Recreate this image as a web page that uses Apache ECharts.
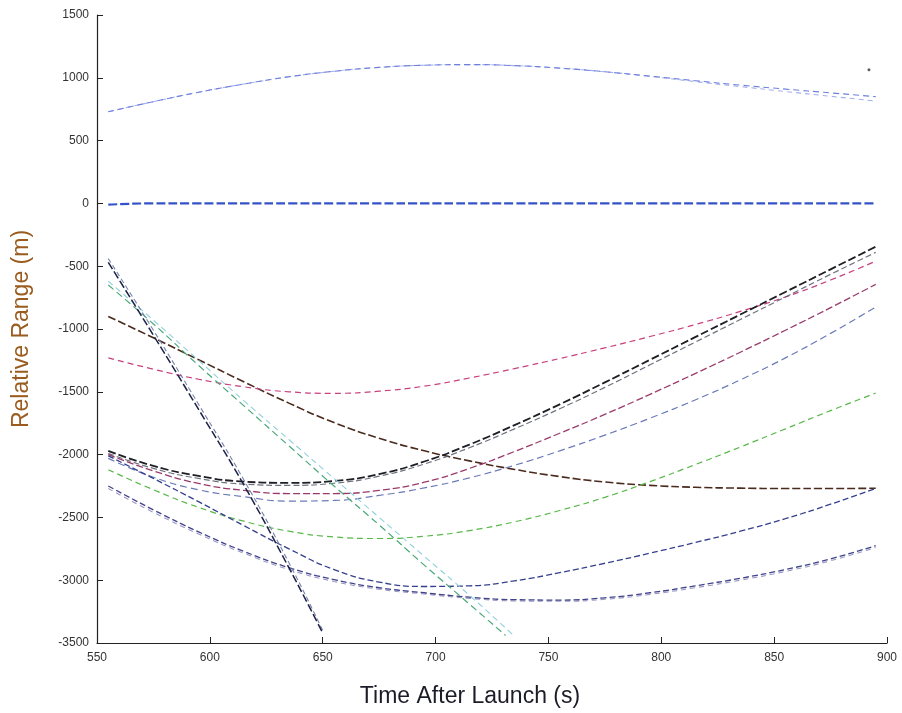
<!DOCTYPE html>
<html>
<head>
<meta charset="utf-8">
<script src="https://cdn.jsdelivr.net/npm/echarts@6/dist/echarts.min.js"></script>
<style>html,body{margin:0;padding:0;background:#fff}#c{width:902px;height:713px}</style>
</head>
<body>
<div id="c"></div>
<script>
// ---- data ----
const times = [555, 575, 595, 615, 635, 655, 675, 695, 715, 735, 755, 775, 795, 815, 835, 855, 875, 895];
const arcTop      = [730, 810, 885, 950, 1008, 1052, 1083, 1100, 1105, 1097, 1077, 1048, 1013, 977, 942, 910, 880, 850];
const arcTop2     = [730, 810, 885, 950, 1008, 1052, 1083, 1100, 1105, 1097, 1077, 1048, 1011, 970, 930, 891, 853, 815];
const zeroLine    = [-10, 0, 0, 0, 0, 0, 0, 0, 0, 0, 0, 0, 0, 0, 0, 0, 0, 0];
const brownCurve  = [-900, -1070, -1245, -1420, -1590, -1745, -1870, -1970, -2050, -2118, -2175, -2218, -2245, -2260, -2267, -2270, -2270, -2268];
const magentaCurve= [-1230, -1320, -1400, -1460, -1500, -1512, -1495, -1455, -1390, -1315, -1235, -1150, -1060, -965, -860, -745, -610, -460];
const blackCurve  = [-1970, -2090, -2170, -2215, -2225, -2210, -2155, -2055, -1920, -1765, -1600, -1425, -1245, -1065, -885, -705, -525, -345];
const blackCurve2 = [-1990, -2110, -2190, -2235, -2245, -2228, -2172, -2075, -1945, -1795, -1635, -1465, -1285, -1105, -925, -745, -565, -390];
const redCurve    = [-2000, -2130, -2230, -2285, -2310, -2310, -2285, -2220, -2110, -1975, -1830, -1680, -1520, -1355, -1185, -1010, -830, -645];
const blueGray    = [-2030, -2180, -2280, -2335, -2370, -2365, -2325, -2265, -2185, -2085, -1970, -1845, -1710, -1565, -1405, -1230, -1035, -825];
const greenCurve  = [-2120, -2280, -2420, -2530, -2610, -2655, -2668, -2650, -2605, -2535, -2445, -2340, -2215, -2080, -1940, -1795, -1650, -1510];
const navyA       = [-2010, -2190, -2375, -2565, -2750, -2915, -3015, -3050, -3045, -3005, -2940, -2865, -2785, -2700, -2610, -2510, -2395, -2270];
const navyB       = [-2250, -2440, -2615, -2770, -2900, -2995, -3060, -3100, -3135, -3155, -3158, -3140, -3100, -3045, -2985, -2915, -2830, -2725];
const navyB2      = [-2270, -2460, -2632, -2785, -2915, -3010, -3072, -3110, -3145, -3165, -3168, -3152, -3113, -3060, -3000, -2930, -2845, -2740];

const steepTimes  = [555, 575, 595, 615, 635, 650];
const steepDark   = [-470, -1050, -1640, -2240, -2900, -3420];
const steepLight  = [-440, -1010, -1600, -2200, -2860, -3400];

const diagTimes   = [555, 575, 595, 615, 635, 655, 675, 695, 715, 731];
const diagGreen   = [-650, -960, -1290, -1610, -1930, -2250, -2560, -2880, -3190, -3440];
const diagTimes2  = [555, 575, 595, 615, 635, 655, 675, 695, 715, 734];
const diagCyan    = [-620, -930, -1250, -1570, -1880, -2190, -2500, -2810, -3120, -3430];

const strayPoint  = [[892, 1065]];

const xTicks = [550, 600, 650, 700, 750, 800, 850, 900];
const yTicks = [-3500, -3000, -2500, -2000, -1500, -1000, -500, 0, 500, 1000, 1500];

// ---- build ----
function pairs(xs, ys) { return ys.map((v, i) => [xs[i], v]); }
function line(name, xs, ys, color, width, dash, opacity) {
  return {
    name, type: 'line', data: pairs(xs, ys), smooth: true, showSymbol: false, silent: true,
    lineStyle: { color, width, type: dash, opacity: opacity == null ? 1 : opacity }
  };
}

const series = [
  line('arcTop2', times, arcTop2, '#9aa6e8', 1.1, [5, 4], 0.9),
  line('arcTop', times, arcTop, '#6f80dc', 1.1, [6, 4]),
  line('zero', times, zeroLine, '#3553c8', 2.2, [9, 3]),
  line('brown', times, brownCurve, '#4a2a1c', 1.6, [8, 3]),
  line('magenta', times, magentaCurve, '#c8407e', 1.2, [6, 4]),
  line('black2', times, blackCurve2, '#555a6a', 1.2, [6, 3], 0.85),
  line('black', times, blackCurve, '#1e1e24', 1.8, [8, 3]),
  line('red', times, redCurve, '#9a3a6a', 1.3, [7, 3]),
  line('bluegray', times, blueGray, '#6a7ab8', 1.2, [7, 4]),
  line('green', times, greenCurve, '#58b84a', 1.2, [6, 4]),
  line('navyA', times, navyA, '#34408e', 1.3, [6, 3]),
  line('navyB2', times, navyB2, '#8a86b8', 1.1, [5, 4], 0.85),
  line('navyB', times, navyB, '#40448a', 1.3, [6, 3]),
  line('diagCyan', diagTimes2, diagCyan, '#8fd0dc', 1.1, [6, 4]),
  line('diagGreen', diagTimes, diagGreen, '#4aa87a', 1.2, [7, 4]),
  line('steepLight', steepTimes, steepLight, '#7a84a8', 1.1, [5, 3]),
  line('steepDark', steepTimes, steepDark, '#1c2248', 1.5, [8, 3]),
  { name: 'stray', type: 'scatter', data: strayPoint, symbolSize: 3, silent: true, itemStyle: { color: '#333' } }
];

const chart = echarts.init(document.getElementById('c'), null, { renderer: 'canvas' });
chart.setOption({
  animation: false,
  backgroundColor: '#ffffff',
  grid: { left: 97, right: 15, top: 15, bottom: 68, containLabel: false },
  xAxis: {
    type: 'value', min: xTicks[0], max: xTicks[xTicks.length - 1], interval: 50,
    name: 'Time After Launch (s)', nameLocation: 'middle', nameGap: 42,
    nameTextStyle: { fontFamily: 'Liberation Sans, Arial', fontSize: 23, color: '#1c1c28', padding: [0, 44, 0, 0] },
    axisLine: { show: true, onZero: false, lineStyle: { color: '#222', width: 1.2 } },
    axisTick: { show: true, inside: true, length: 6, lineStyle: { color: '#222' } },
    axisLabel: { fontFamily: 'Liberation Sans, Arial', fontSize: 12, color: '#333', margin: 9, formatter: v => String(v) },
    splitLine: { show: false }
  },
  yAxis: {
    type: 'value', min: yTicks[0], max: yTicks[yTicks.length - 1], interval: 500,
    name: 'Relative Range (m)', nameLocation: 'middle', nameGap: 64, nameRotate: 90,
    nameTextStyle: { fontFamily: 'Liberation Sans, Arial', fontSize: 23, color: '#9a5c1e' },
    axisLine: { show: true, onZero: false, lineStyle: { color: '#222', width: 1.2 } },
    axisTick: { show: true, inside: true, length: 6, lineStyle: { color: '#222' } },
    axisLabel: { fontFamily: 'Liberation Sans, Arial', fontSize: 12, color: '#333', margin: 8, formatter: v => String(v) },
    splitLine: { show: false }
  },
  series
});
</script>
</body>
</html>
